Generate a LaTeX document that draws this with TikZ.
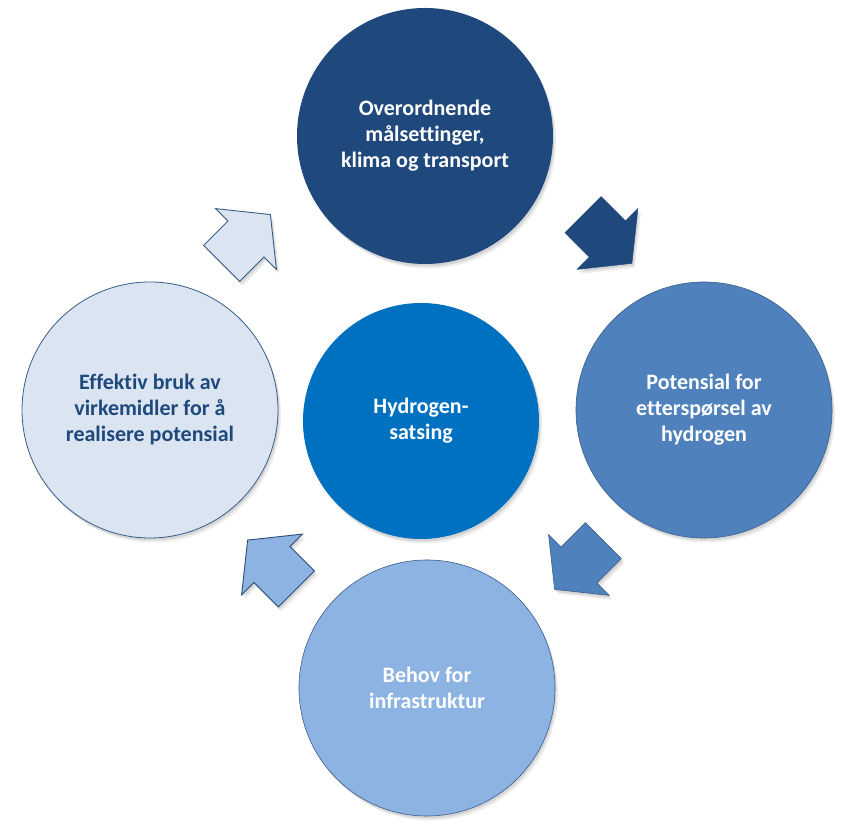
\documentclass[tikz,border=0pt]{standalone}
\usepackage{fontspec}
\setmainfont[Ligatures=NoCommon]{Carlito}
\usetikzlibrary{shadows}
\definecolor{cnavy}{RGB}{31,73,125}
\definecolor{cblue}{RGB}{79,129,189}
\definecolor{clight}{RGB}{141,179,226}
\definecolor{cpale}{RGB}{219,229,241}
\definecolor{ccenter}{RGB}{0,112,192}
\definecolor{cline}{RGB}{56,93,138}
\definecolor{cdark}{RGB}{44,77,117}
\tikzset{
  softshadow/.style={drop shadow={opacity=.10,shadow xshift=1.5pt,shadow yshift=-2.5pt,fill=black},
                     drop shadow={opacity=.07,shadow xshift=3pt,shadow yshift=-4.5pt,fill=black}},
  disc/.style={circle, minimum size=256pt, inner sep=0pt, align=center,
               font=\bfseries\fontsize{22}{26}\selectfont, text=white, softshadow},
  pics/blockarrow/.style={code={
    \path[pic actions, softshadow] (-34.5,-25.5) -- (0,-25.5) -- (0,-43) -- (34.5,0)
       -- (0,43) -- (0,25.5) -- (-34.5,25.5) -- cycle;}},
  arrowA/.style={fill=cnavy, draw=cnavy, line width=.5pt},
  arrowB/.style={fill=cblue, draw=cline, line width=.6pt},
  arrowC/.style={fill=clight, draw=cdark, line width=.9pt},
  arrowD/.style={fill=cpale, draw=cline, line width=.9pt}
}
\begin{document}
\begin{tikzpicture}[x=1pt,y=1pt]
\useasboundingbox (0,0) rectangle (849,832);
% circles
\node[disc, fill=cnavy] (top) at (425,696) {Overordnende\\målsettinger,\\klima og transport};
\node[disc, fill=cblue, draw=cline, line width=.6pt] (right) at (704,422) {Potensial for\\etterspørsel av\\hydrogen};
\node[disc, fill=clight, draw=cline, line width=.6pt] (bottom) at (427,144) {Behov for\\infrastruktur};
\node[disc, fill=cpale, draw=cline, line width=.8pt, text=cnavy] (left) at (150,422) {Effektiv bruk av\\virkemidler for å\\realisere potensial};
\node[disc, minimum size=236pt, fill=ccenter] (center) at (421,411) {Hydrogen-\\satsing};
% block arrows
\pic[arrowA, rotate=-45] (a1) at (607.5,593) {blockarrow};
\pic[arrowB, rotate=-135] (a2) at (579,267) {blockarrow};
\pic[arrowC, rotate=135] (a3) at (272,267.5) {blockarrow};
\pic[arrowD, rotate=45] (a4) at (246,593) {blockarrow};
\end{tikzpicture}
\end{document}
